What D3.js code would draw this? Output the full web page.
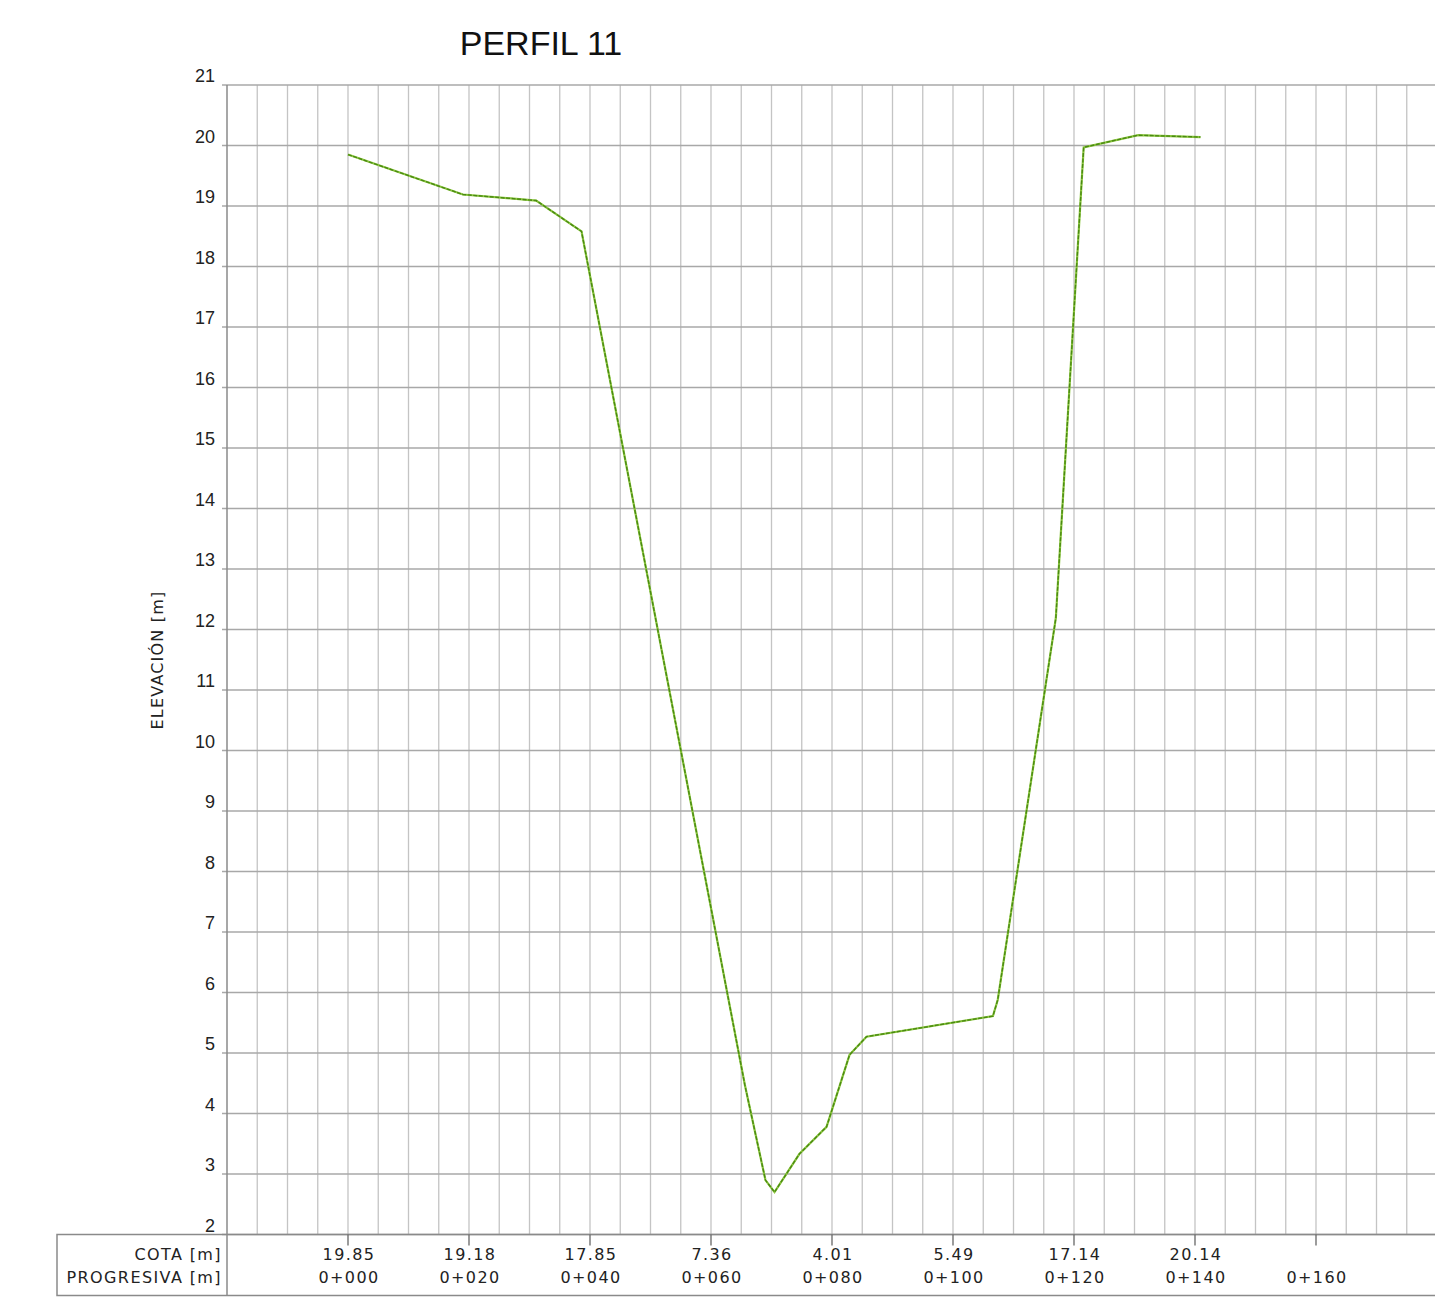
<html>
<head>
  <title>PERFIL 11</title>
  <script src="https://d3js.org/d3.v7.min.js"></script>
  <style>
    body { margin: 0; background: #fff; font-family: 'DejaVu Sans', Arial, sans-serif; }
    .vGrid line { stroke: #c4c4c4; stroke-width: 1.3; }
    .hGrid line { stroke: #a8a8a8; stroke-width: 1.3; }
    .tbl { letter-spacing: 1.4px; }
  </style>
</head>
<body>
  <svg id="perfil" width="1435" height="1304"></svg>
  <script>
    // ----
    // DATA
    // ----
    const progresiva = [0, 19.0, 31.1, 38.6, 65.6, 69.0, 70.5, 74.6, 79.1, 82.9, 85.7, 106.6, 107.4, 117.0, 121.6, 130.6, 140.9];
    const elevacion = [19.85, 19.19, 19.09, 18.58, 4.47, 2.90, 2.70, 3.33, 3.78, 4.97, 5.27, 5.61, 5.88, 12.19, 19.97, 20.17, 20.14];
    const estaciones = [0, 20, 40, 60, 80, 100, 120, 140, 160];
    const estacionLabels = ["0+000", "0+020", "0+040", "0+060", "0+080", "0+100", "0+120", "0+140", "0+160"];
    const cotaLabels = ["19.85", "19.18", "17.85", "7.36", "4.01", "5.49", "17.14", "20.14", ""];
    const elevTicks = d3.range(2, 22);

    const svg = d3.select("svg#perfil");
    const margin = { top: 85, left: 227 };
    const chartWidth = 1210;
    const chartHeight = 1149.5;

    const x = d3.scaleLinear().domain([-20, 180]).range([0, chartWidth]);
    const y = d3.scaleLinear().domain([2, 21]).range([chartHeight, 0]);

    const chart = svg.append("g").attr("transform", `translate(${margin.left},${margin.top})`);

    // vertical gridlines every 5 m
    chart.append("g").attr("class", "vGrid")
      .selectAll("line")
      .data(d3.range(-15, 180, 5))
      .join("line")
      .attr("x1", d => x(d)).attr("x2", d => x(d))
      .attr("y1", 0).attr("y2", chartHeight);

    // horizontal gridlines + stub ticks
    chart.append("g").attr("class", "hGrid")
      .selectAll("line")
      .data(elevTicks)
      .join("line")
      .attr("x1", -5).attr("x2", chartWidth)
      .attr("y1", d => y(d)).attr("y2", d => y(d));

    // left axis line
    chart.append("line")
      .attr("x1", 0).attr("x2", 0).attr("y1", 0).attr("y2", chartHeight)
      .attr("stroke", "#8a8a8a").attr("stroke-width", 1.5);

    // y tick labels
    chart.append("g")
      .selectAll("text")
      .data(elevTicks)
      .join("text")
      .attr("x", -12)
      .attr("y", d => y(d) - 3)
      .attr("text-anchor", "end")
      .attr("font-family", "'Liberation Sans', Arial, sans-serif")
      .attr("font-size", "18px")
      .attr("fill", "#222")
      .text(d => d);

    // y axis title
    svg.append("text")
      .attr("transform", "translate(163,660) rotate(-90)")
      .attr("text-anchor", "middle")
      .attr("font-size", "16px")
      .attr("letter-spacing", "1.2px")
      .attr("fill", "#222")
      .text("ELEVACIÓN [m]");

    // title
    svg.append("text")
      .attr("x", 541).attr("y", 55)
      .attr("text-anchor", "middle")
      .attr("font-family", "'Liberation Sans', Arial, sans-serif")
      .attr("font-size", "34px")
      .attr("fill", "#111")
      .text("PERFIL 11");

    // profile line
    const pts = progresiva.map((p, i) => [p, elevacion[i]]);
    const line = d3.line().x(d => x(d[0])).y(d => y(d[1]));
    chart.append("path")
      .datum(pts)
      .attr("fill", "none")
      .attr("stroke", "#8cc63f")
      .attr("stroke-width", 2.2)
      .attr("d", line);
    chart.append("path")
      .datum(pts)
      .attr("fill", "none")
      .attr("stroke", "#4a8a12")
      .attr("stroke-width", 1.4)
      .attr("stroke-dasharray", "4 1.5")
      .attr("d", line);

    // ------
    // TABLE
    // ------
    const tableTop = margin.top + chartHeight;
    const table = svg.append("g");
    table.append("rect")
      .attr("x", 57).attr("y", tableTop)
      .attr("width", 1400).attr("height", 61)
      .attr("fill", "none").attr("stroke", "#8a8a8a").attr("stroke-width", 1.5);
    table.append("line")
      .attr("x1", margin.left).attr("x2", margin.left)
      .attr("y1", tableTop).attr("y2", tableTop + 61)
      .attr("stroke", "#8a8a8a").attr("stroke-width", 1.5);

    table.append("text").attr("class", "tbl")
      .attr("x", 222).attr("y", tableTop + 25)
      .attr("text-anchor", "end").attr("font-size", "16px").attr("fill", "#222")
      .text("COTA [m]");
    table.append("text").attr("class", "tbl")
      .attr("x", 222).attr("y", tableTop + 48)
      .attr("text-anchor", "end").attr("font-size", "16px").attr("fill", "#222")
      .text("PROGRESIVA [m]");

    const st = table.selectAll("g.st")
      .data(estaciones)
      .join("g").attr("class", "st")
      .attr("transform", d => `translate(${margin.left + x(d)},${tableTop})`);
    st.append("line")
      .attr("y1", 0).attr("y2", 11)
      .attr("stroke", "#666").attr("stroke-width", 1.3);
    st.append("text").attr("class", "tbl")
      .attr("x", 1)
      .attr("y", 25).attr("text-anchor", "middle")
      .attr("font-size", "16px").attr("fill", "#222")
      .text((d, i) => cotaLabels[i]);
    st.append("text").attr("class", "tbl")
      .attr("x", 1)
      .attr("y", 48).attr("text-anchor", "middle")
      .attr("font-size", "16px").attr("fill", "#222")
      .text((d, i) => estacionLabels[i]);
  </script>
</body>
</html>
